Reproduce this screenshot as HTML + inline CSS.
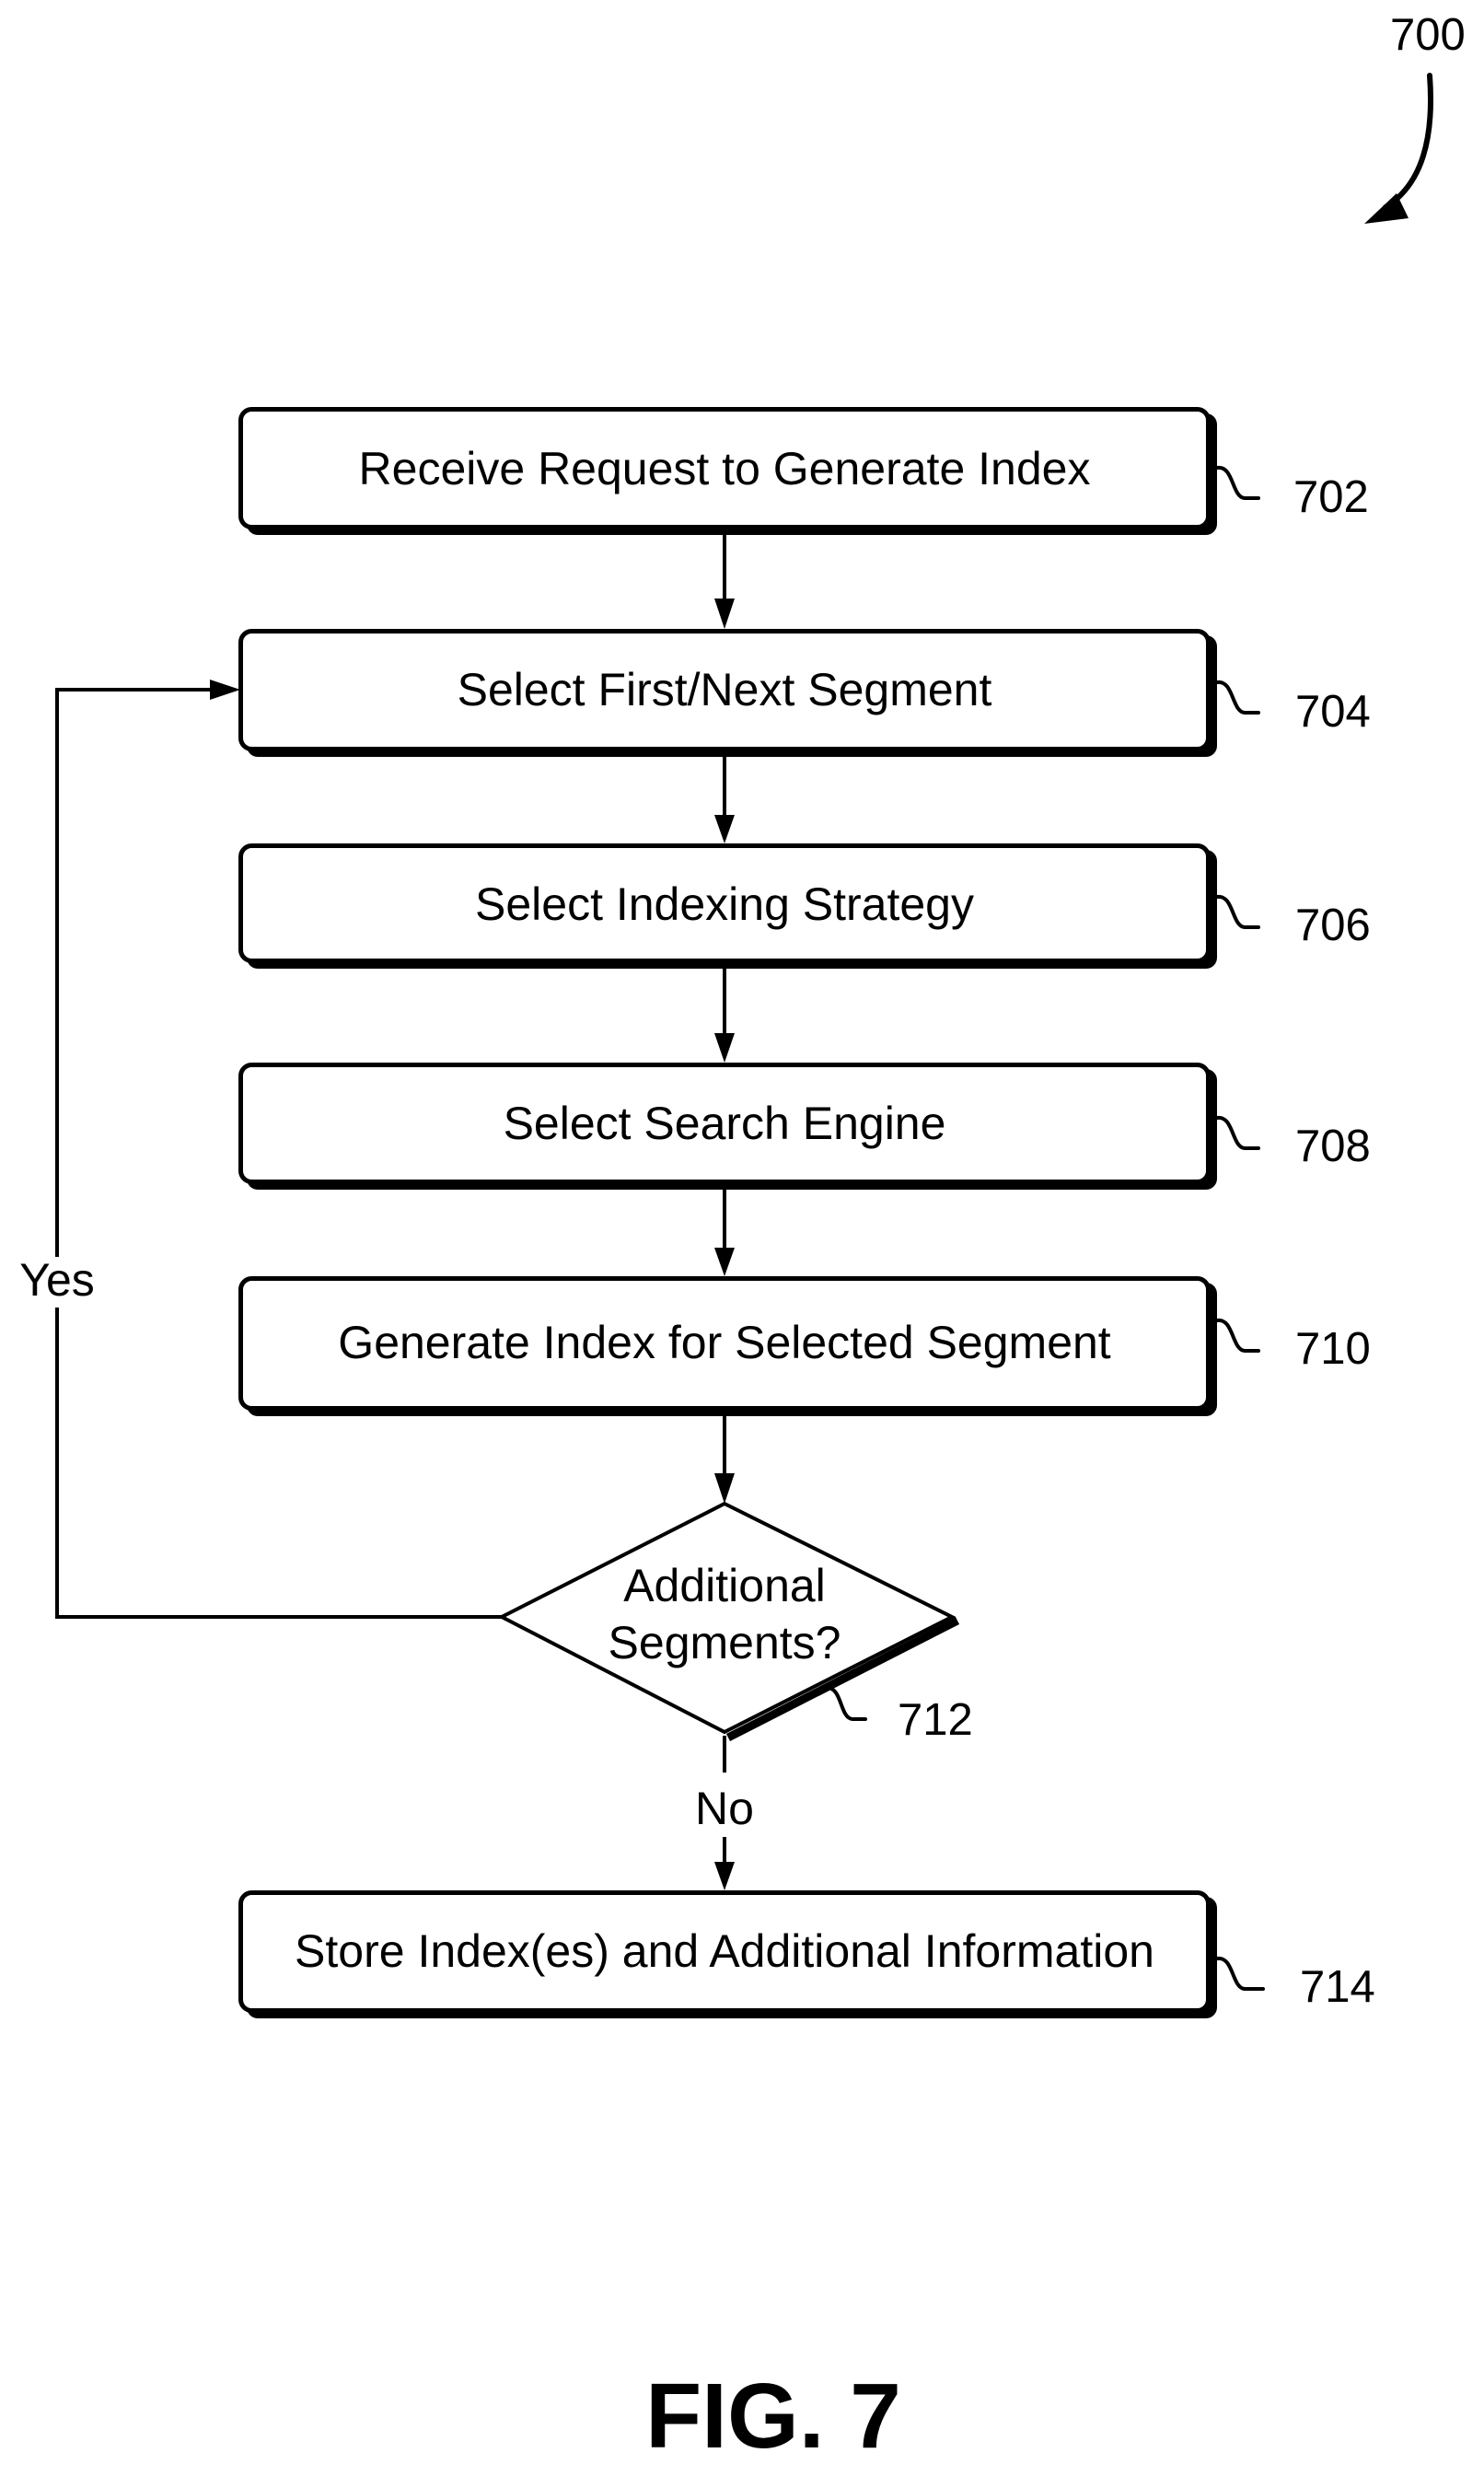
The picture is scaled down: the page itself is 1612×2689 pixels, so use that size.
<!DOCTYPE html>
<html><head><meta charset="utf-8"><style>
html,body{margin:0;padding:0;background:#fff}
svg{display:block}
text{font-family:"Liberation Sans",Arial,sans-serif;fill:#000}
</style></head><body>
<svg width="1612" height="2689" viewBox="0 0 1612 2689" xmlns="http://www.w3.org/2000/svg">
<g font-size="49">
<text x="1510" y="54">700</text>
</g>
<path d="M1553 82 C1558 150 1545 200 1505 225" fill="none" stroke="#000" stroke-width="6" stroke-linecap="round"/>
<polygon points="1482,243 1517,210 1530,237" fill="#000"/>

<g id="boxes">
<rect x="268" y="449" width="1054" height="132" rx="12" fill="#000"/>
<rect x="261.5" y="444.5" width="1051" height="128" rx="12" fill="#fff" stroke="#000" stroke-width="5"/>
<rect x="268" y="690" width="1054" height="132" rx="12" fill="#000"/>
<rect x="261.5" y="685.5" width="1051" height="128" rx="12" fill="#fff" stroke="#000" stroke-width="5"/>
<rect x="268" y="923" width="1054" height="129" rx="12" fill="#000"/>
<rect x="261.5" y="918.5" width="1051" height="125" rx="12" fill="#fff" stroke="#000" stroke-width="5"/>
<rect x="268" y="1161" width="1054" height="131" rx="12" fill="#000"/>
<rect x="261.5" y="1156.5" width="1051" height="127" rx="12" fill="#fff" stroke="#000" stroke-width="5"/>
<rect x="268" y="1393" width="1054" height="145" rx="12" fill="#000"/>
<rect x="261.5" y="1388.5" width="1051" height="141" rx="12" fill="#fff" stroke="#000" stroke-width="5"/>
<rect x="268" y="2060" width="1054" height="132" rx="12" fill="#000"/>
<rect x="261.5" y="2055.5" width="1051" height="128" rx="12" fill="#fff" stroke="#000" stroke-width="5"/>
</g>
<g font-size="50" text-anchor="middle">
<text x="787" y="526">Receive Request to Generate Index</text>
<text x="787" y="766">Select First/Next Segment</text>
<text x="787" y="999">Select Indexing Strategy</text>
<text x="787" y="1237">Select Search Engine</text>
<text x="787" y="1475">Generate Index for Selected Segment</text>
<text x="787" y="2136">Store Index(es) and Additional Information</text>
</g>

<g stroke="#000" stroke-width="4" fill="none">
<line x1="787" y1="580" x2="787" y2="650"/>
<line x1="787" y1="821" x2="787" y2="885"/>
<line x1="787" y1="1051" x2="787" y2="1122"/>
<line x1="787" y1="1291" x2="787" y2="1355"/>
<line x1="787" y1="1537" x2="787" y2="1600"/>
<line x1="787" y1="1885" x2="787" y2="1925"/>
<line x1="787" y1="1995" x2="787" y2="2022"/>
<polyline points="545,1756 62,1756 62,1420"/>
<polyline points="62,1365 62,749 228,749"/>
</g>
<g fill="#000">
<polygon points="776,650 798,650 787,683"/>
<polygon points="776,885 798,885 787,916"/>
<polygon points="776,1122 798,1122 787,1154"/>
<polygon points="776,1355 798,1355 787,1386"/>
<polygon points="776,1600 798,1600 787,1633"/>
<polygon points="776,2022 798,2022 787,2053"/>
<polygon points="228,738 228,760 261,749"/>
</g>

<path d="M1040 1760 L791 1887" stroke="#000" stroke-width="9" fill="none"/>
<polygon points="787,1633 1034,1756 787,1881 545,1756" fill="#fff" stroke="#000" stroke-width="4" stroke-linejoin="miter"/>
<g font-size="50" text-anchor="middle">
<text x="787" y="1739">Additional</text>
<text x="787" y="1801">Segments?</text>
<text x="62" y="1407">Yes</text>
<text x="787" y="1981">No</text>
</g>

<g stroke="#000" stroke-width="4" fill="none" stroke-linecap="round">
<path d="M1322 508 C1340 505 1338 540 1352 541 L1367 541"/>
<path d="M1322 741 C1340 738 1338 773 1352 774 L1367 774"/>
<path d="M1322 974 C1340 971 1338 1006 1352 1007 L1367 1007"/>
<path d="M1322 1214 C1340 1211 1338 1246 1352 1247 L1367 1247"/>
<path d="M1322 1434 C1340 1431 1338 1466 1352 1467 L1367 1467"/>
<path d="M1322 2127 C1340 2124 1338 2159 1352 2160 L1372 2160"/>
<path d="M898 1833 C915 1832 912 1866 926 1867 L940 1867"/>
</g>
<g font-size="49">
<text x="1405" y="556">702</text>
<text x="1407" y="789">704</text>
<text x="1407" y="1021">706</text>
<text x="1407" y="1261">708</text>
<text x="1407" y="1481">710</text>
<text x="975" y="1884">712</text>
<text x="1412" y="2174">714</text>
</g>
<text x="840" y="2658" font-size="100" font-weight="bold" text-anchor="middle">FIG. 7</text>
</svg>
</body></html>
